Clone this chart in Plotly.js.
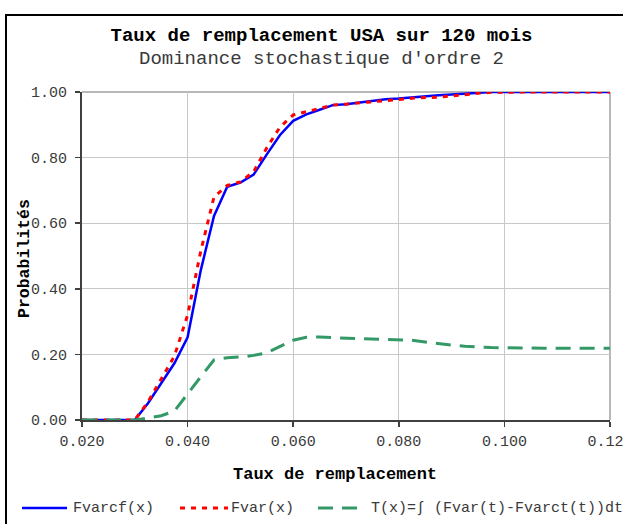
<!DOCTYPE html>
<html>
<head>
<meta charset="utf-8">
<script src="https://cdn.plot.ly/plotly-3.0.1.min.js"></script>
<style>
  html, body { margin: 0; padding: 0; overflow: hidden; background: #fff; width: 623px; height: 524px; }
  #frame { position: absolute; left: 5px; top: 14px; width: 650px; height: 530px; border: 2px solid #000; background: #fff; }
  #chart { width: 650px; height: 530px; }
</style>
</head>
<body>
<div id="frame"><div id="chart"></div></div>
<script>
// ---- data ----
const tauxX = [0.020, 0.0225, 0.025, 0.0275, 0.030, 0.0325, 0.035, 0.0375, 0.040, 0.0425,
               0.045, 0.0475, 0.050, 0.0525, 0.055, 0.0575, 0.060, 0.0625, 0.065, 0.0675,
               0.070, 0.0725, 0.075, 0.0775, 0.080, 0.0825, 0.085, 0.0875, 0.090, 0.0925,
               0.095, 0.0975, 0.100, 0.1025, 0.105, 0.1075, 0.110, 0.1125, 0.115, 0.1175, 0.120];
const fvarcf = [0, 0, 0, 0, 0, 0.051, 0.112, 0.173, 0.252, 0.457,
                0.622, 0.711, 0.724, 0.748, 0.810, 0.869, 0.912, 0.932, 0.946, 0.960,
                0.963, 0.968, 0.973, 0.978, 0.980, 0.984, 0.987, 0.990, 0.992, 0.995,
                0.998, 1.0, 1.0, 1.0, 1.0, 1.0, 1.0, 1.0, 1.0, 1.0, 1.0];
const fvar = [0, 0, 0, 0, 0, 0.055, 0.125, 0.195, 0.320, 0.515,
              0.680, 0.715, 0.726, 0.757, 0.830, 0.893, 0.930, 0.940, 0.952, 0.960,
              0.963, 0.967, 0.970, 0.975, 0.979, 0.981, 0.983, 0.984, 0.988, 0.993,
              0.996, 0.999, 1.0, 1.0, 1.0, 1.0, 1.0, 1.0, 1.0, 1.0, 1.0];
const tx = [0, 0, 0, 0, 0, 0.006, 0.013, 0.027, 0.081, 0.132,
            0.183, 0.190, 0.192, 0.197, 0.205, 0.223, 0.243, 0.252, 0.253, 0.251,
            0.250, 0.249, 0.248, 0.246, 0.245, 0.243, 0.238, 0.232, 0.228, 0.225,
            0.222, 0.221, 0.220, 0.219, 0.219, 0.219, 0.219, 0.219, 0.219, 0.219, 0.219];
const seriesNames = ['Fvarcf(x)', 'Fvar(x)', 'T(x)=\u222B (Fvar(t)-Fvarct(t))dt'];
const titleText = 'Taux de remplacement USA sur 120 mois';
const subtitleText = "Dominance stochastique d'ordre 2";
const xTitle = 'Taux de remplacement';
const yTitle = 'Probabilités';

// ---- layout helpers (page pixels -> paper coords) ----
const W = 650, H = 530, OX = 7, OY = 16;
const PL = 82, PR = 610, PT = 92, PB = 420;
const px = v => (v - PL) / (PR - PL);
const py = v => (PB - v) / (PB - PT);
const mono = 'Liberation Mono, Courier New, monospace';

const colors = ['#0000FF', '#FF0000', '#339966'];
const dashes = ['solid', '5px,6px', '15px,9px'];
const widths = [2.5, 3, 3];
const ys = [fvarcf, fvar, tx];

const traces = ys.map((y, i) => ({
  x: tauxX, y: y, type: 'scatter', mode: 'lines', name: seriesNames[i],
  line: { color: colors[i], width: widths[i], dash: dashes[i] },
  hoverinfo: 'skip'
}));

const legendY = 508;
const legendItems = [
  { x0: 22, x1: 67, tx: 71 },
  { x0: 180, x1: 228, tx: 229 },
  { x0: 318, x1: 362, tx: 369 }
];
const shapes = [
  { type: 'line', xref: 'paper', yref: 'paper', x0: 0, x1: 1, y0: 1, y1: 1, line: { color: '#a0a0a0', width: 1.5 }, layer: 'below' },
  { type: 'line', xref: 'paper', yref: 'paper', x0: 1, x1: 1, y0: 0, y1: 1, line: { color: '#a0a0a0', width: 1.5 }, layer: 'below' }
];
const annotations = [
  { text: subtitleText, xref: 'paper', yref: 'paper', x: px(321.5), y: py(59), xanchor: 'center', yanchor: 'middle', showarrow: false,
    font: { family: mono, size: 19, color: '#3a3a3a' } },
  { text: '<b>' + xTitle + '</b>', xref: 'paper', yref: 'paper', x: px(335), y: py(474), xanchor: 'center', yanchor: 'middle', showarrow: false,
    font: { family: mono, size: 17, color: '#000' } },
  { text: '<b>' + yTitle + '</b>', xref: 'paper', yref: 'paper', x: px(24), y: py(259), xanchor: 'center', yanchor: 'middle', showarrow: false,
    textangle: -90, font: { family: mono, size: 16.5, color: '#000' } }
];
legendItems.forEach((it, i) => {
  shapes.push({ type: 'line', xref: 'paper', yref: 'paper', x0: px(it.x0), x1: px(it.x1), y0: py(legendY), y1: py(legendY),
    line: { color: colors[i], width: widths[i], dash: dashes[i] } });
  annotations.push({ text: seriesNames[i], xref: 'paper', yref: 'paper', x: px(it.tx), y: py(legendY), xanchor: 'left', yanchor: 'middle',
    showarrow: false, font: { family: mono, size: 15, color: '#3a3a3a' } });
});

const axisCommon = {
  showgrid: true, gridcolor: '#c8c8c8', gridwidth: 1,
  showline: true, linecolor: '#404040', linewidth: 2,
  ticks: 'outside', ticklen: 5, tickwidth: 1.5, tickcolor: '#404040',
  zeroline: false, fixedrange: true,
  tickfont: { family: mono, size: 15, color: '#3a3a3a' }
};

const layout = {
  width: W, height: H,
  margin: { l: PL - OX, r: W - (PR - OX), t: PT - OY, b: H - (PB - OY), pad: 0 },
  paper_bgcolor: '#fff', plot_bgcolor: '#fff',
  showlegend: false,
  title: { text: '<b>' + titleText + '</b>', xref: 'container', yref: 'container',
    x: (321.5 - OX) / W, xanchor: 'center', y: 1 - (34 - OY) / H, yanchor: 'middle',
    font: { family: mono, size: 19, color: '#000' } },
  xaxis: Object.assign({}, axisCommon, { range: [0.02, 0.12], tick0: 0.02, dtick: 0.02, tickformat: '.3f', ticklabelstandoff: 1 }),
  yaxis: Object.assign({}, axisCommon, { range: [0, 1], tick0: 0, dtick: 0.2, tickformat: '.2f', ticklabelstandoff: 5 }),
  shapes: shapes,
  annotations: annotations
};

Plotly.newPlot('chart', traces, layout, { displayModeBar: false, staticPlot: true });
</script>
</body>
</html>
